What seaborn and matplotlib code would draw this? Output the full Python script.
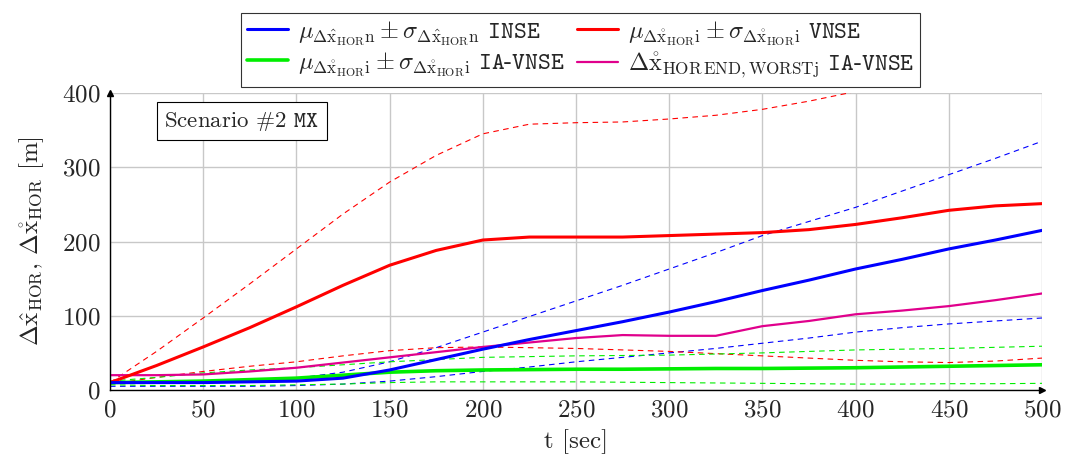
import matplotlib
matplotlib.use("Agg")
import matplotlib.pyplot as plt
import seaborn as sns
from matplotlib.lines import Line2D

sns.set_style("white")
plt.rcParams['font.family'] = ['cmr10', 'DejaVu Serif']
plt.rcParams['mathtext.fontset'] = 'cm'
plt.rcParams['axes.formatter.use_mathtext'] = True

# time axis [sec]
t = [0, 25, 50, 75, 100, 125, 150, 175, 200, 225, 250,
     275, 300, 325, 350, 375, 400, 425, 450, 475, 500]

# INSE (blue)
inse_mean = [10, 10, 10, 11, 12, 16, 27, 41, 55, 68, 80,
             92, 105, 119, 134, 148, 163, 176, 190, 202, 215]
inse_up = [10, 11, 12, 13, 16, 24, 38, 57, 78, 99, 120,
           141, 163, 185, 208, 227, 246, 268, 290, 312, 335]
inse_lo = [5, 5, 5, 5, 6, 8, 12, 18, 25, 31, 38,
           44, 50, 56, 63, 70, 78, 84, 89, 93, 97]

# VNSE (red)
vnse_mean = [10, 33, 58, 84, 112, 141, 168, 188, 202, 206, 206,
             206, 208, 210, 212, 216, 223, 232, 242, 248, 251]
vnse_up = [10, 52, 97, 143, 190, 237, 280, 316, 345, 358, 360,
           361, 365, 370, 378, 389, 402, 418, 434, 450, 465]
vnse_lo = [8, 17, 25, 32, 38, 46, 53, 57, 58, 57, 56,
           54, 52, 49, 46, 43, 40, 38, 37, 39, 43]

# IA-VNSE (green)
ia_mean = [10, 11, 12, 14, 16, 20, 24, 26, 27, 27.5, 28,
           28, 28.5, 29, 29, 29.5, 30, 31, 32, 33, 34]
ia_up = [12, 17, 23, 27, 30, 34, 38, 41, 44, 45, 46,
         46.5, 47, 48.5, 50, 52, 54, 55, 56, 57.5, 59]
ia_lo = [7, 6, 6, 6, 7, 8, 10, 11, 11, 11, 11,
         10.5, 10, 9.5, 9, 8.5, 8, 8, 8.5, 8.5, 9]

# worst case IA-VNSE (magenta)
ia_worst = [20, 20, 21, 25, 30, 37, 44, 51, 58, 64, 70,
            74, 73, 73, 86, 93, 102, 107, 113, 121, 130]

BLUE, RED, GREEN, MAGENTA = '#0000ff', '#ff0000', '#00ee00', '#e0008c'

lab_inse = (r'$\mu_{\Delta\hat{\mathrm{x}}_{\mathrm{HOR}}\mathrm{n}} \pm '
            r'\sigma_{\Delta\hat{\mathrm{x}}_{\mathrm{HOR}}\mathrm{n}}$ $\mathtt{INSE}$')
lab_vnse = (r'$\mu_{\Delta\mathring{\mathrm{x}}_{\mathrm{HOR}}\mathrm{i}} \pm '
            r'\sigma_{\Delta\mathring{\mathrm{x}}_{\mathrm{HOR}}\mathrm{i}}$ $\mathtt{VNSE}$')
lab_ia = (r'$\mu_{\Delta\mathring{\mathrm{x}}_{\mathrm{HOR}}\mathrm{i}} \pm '
          r'\sigma_{\Delta\mathring{\mathrm{x}}_{\mathrm{HOR}}\mathrm{i}}$ $\mathtt{IA}$-$\mathtt{VNSE}$')
lab_worst = (r'$\Delta\mathring{\mathrm{x}}_{\mathrm{HOR\,END,WORST}\mathrm{j}}$ '
             r'$\mathtt{IA}$-$\mathtt{VNSE}$')

fig = plt.figure(figsize=(10.75, 4.69), dpi=100)
ax = fig.add_axes([0.1023, 0.1684, 0.8670, 0.6333])

dash = (5, 4)
for ys, c in [(inse_up, BLUE), (inse_lo, BLUE), (vnse_up, RED), (vnse_lo, RED),
              (ia_up, GREEN), (ia_lo, GREEN)]:
    sns.lineplot(x=t, y=ys, color=c, lw=0.8, ax=ax)
    ax.lines[-1].set_dashes(dash)

sns.lineplot(x=t, y=ia_worst, color=MAGENTA, lw=1.6, ax=ax)
sns.lineplot(x=t, y=ia_mean, color=GREEN, lw=2.6, ax=ax)
sns.lineplot(x=t, y=vnse_mean, color=RED, lw=2.2, ax=ax)
sns.lineplot(x=t, y=inse_mean, color=BLUE, lw=2.2, ax=ax)

ax.set_xlim(0, 500)
ax.set_ylim(0, 400)
ax.set_xticks(range(0, 501, 50))
ax.set_yticks(range(0, 401, 100))
ax.grid(True, color='#c8c8c8', lw=1.0)
ax.set_axisbelow(True)
for s in ['top', 'right']:
    ax.spines[s].set_visible(False)
for s in ['left', 'bottom']:
    ax.spines[s].set_color('black')
    ax.spines[s].set_linewidth(1.0)
ax.tick_params(direction='inout', length=5, width=0.8, labelsize=18, pad=4)
ax.plot(0, 1, '^k', ms=4, transform=ax.transAxes, clip_on=False)
ax.plot(1, 0, '>k', ms=4, transform=ax.transAxes, clip_on=False)

ax.set_xlabel('t [sec]', fontsize=18, labelpad=6)
ax.set_ylabel(r'$\Delta\hat{\mathrm{x}}_{\mathrm{HOR}}$, $\Delta\mathring{\mathrm{x}}_{\mathrm{HOR}}$ [m]',
              fontsize=18, labelpad=12)

ax.text(0.058, 0.905, r'Scenario $\#2$ $\mathtt{MX}$', transform=ax.transAxes,
        fontsize=16.5, va='center', ha='left',
        bbox=dict(boxstyle='square,pad=0.32', fc='white', ec='black', lw=0.8))

handles = [Line2D([], [], color=BLUE, lw=2.2), Line2D([], [], color=GREEN, lw=2.6),
           Line2D([], [], color=RED, lw=2.2), Line2D([], [], color=MAGENTA, lw=1.6)]
labels = [lab_inse, lab_ia, lab_vnse, lab_worst]
leg = fig.legend(handles, labels, loc='upper center', bbox_to_anchor=(0.54, 0.998),
                 ncol=2, fontsize=17.5, frameon=True, fancybox=False, edgecolor='black',
                 handlelength=1.7, columnspacing=0.5, handletextpad=0.4,
                 borderpad=0.25, labelspacing=0.15)
leg.get_frame().set_linewidth(0.8)

fig.savefig('out.png', dpi=100)
